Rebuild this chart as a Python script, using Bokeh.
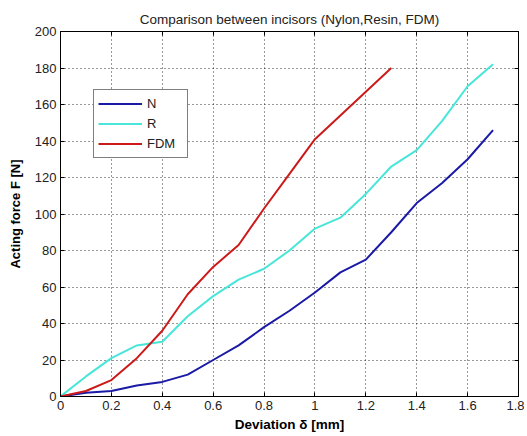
from bokeh.plotting import figure
from bokeh.models import LinearAxis, Range1d, FixedTicker, Legend, LegendItem
from bokeh.embed import file_html
from bokeh.resources import INLINE

x_n = [0, 0.1, 0.2, 0.3, 0.4, 0.5, 0.6, 0.7, 0.8, 0.9, 1.0, 1.1, 1.2, 1.3, 1.4, 1.5, 1.6, 1.7]
y_n = [0, 2, 3, 6, 8, 12, 20, 28, 38, 47, 57, 68, 75, 90, 106, 117, 130, 146]
x_r = [0, 0.1, 0.2, 0.3, 0.4, 0.5, 0.6, 0.7, 0.8, 0.9, 1.0, 1.1, 1.2, 1.3, 1.4, 1.5, 1.6, 1.7]
y_r = [0, 11, 21, 28, 30, 44, 55, 64, 70, 80, 92, 98, 111, 126, 135, 151, 170, 182]
x_f = [0, 0.1, 0.2, 0.3, 0.4, 0.5, 0.6, 0.7, 0.8, 0.9, 1.0, 1.1, 1.2, 1.3]
y_f = [0, 3, 9, 21, 36, 56, 71, 83, 103, 122, 141, 154, 167, 180]
x_ticks = [0, 0.2, 0.4, 0.6, 0.8, 1.0, 1.2, 1.4, 1.6, 1.8]
x_labels = {0: "0", 0.2: "0.2", 0.4: "0.4", 0.6: "0.6", 0.8: "0.8", 1.0: "1", 1.2: "1.2", 1.4: "1.4", 1.6: "1.6", 1.8: "1.8"}
y_ticks = [0, 20, 40, 60, 80, 100, 120, 140, 160, 180, 200]

FONT = "Liberation Sans"

p = figure(frame_width=458, frame_height=365, output_backend="svg", toolbar_location=None,
           x_range=Range1d(0, 1.8), y_range=Range1d(0, 200),
           min_border_left=60, min_border_right=6, min_border_top=31, min_border_bottom=36,
           title="Comparison between incisors (Nylon,Resin, FDM)")
p.title.align = "center"
p.title.text_font = FONT
p.title.text_font_size = "13.5px"
p.title.text_font_style = "normal"
p.title.text_color = "#222222"
p.title.offset = 0

p.outline_line_color = "black"
p.outline_line_width = 1
p.outline_line_alpha = 1

for ax in (p.xaxis[0], p.yaxis[0]):
    ax.major_tick_in = 4
    ax.major_tick_out = 0
    ax.minor_tick_in = 0
    ax.minor_tick_out = 0
    ax.axis_line_color = "black"
    ax.major_label_text_font = FONT
    ax.major_label_text_font_size = "13px"
    ax.major_label_text_color = "#222222"
    ax.axis_label_text_font = FONT
    ax.axis_label_text_font_style = "bold"
    ax.axis_label_text_color = "black"

p.xaxis[0].axis_label_text_font_size = "13.5px"
p.yaxis[0].axis_label_text_font_size = "13px"
p.xaxis[0].ticker = FixedTicker(ticks=x_ticks)
p.xaxis[0].major_label_overrides = x_labels
p.yaxis[0].ticker = FixedTicker(ticks=y_ticks)
p.xaxis[0].axis_label = "Deviation δ [mm]"
p.yaxis[0].axis_label = "Acting force F [N]"
p.xaxis[0].axis_label_standoff = 4
p.yaxis[0].axis_label_standoff = 9
p.xaxis[0].major_label_standoff = 4
p.yaxis[0].major_label_standoff = 4

top = LinearAxis(ticker=FixedTicker(ticks=x_ticks),
                 major_label_overrides={t: "" for t in x_ticks},
                 major_tick_in=4, major_tick_out=0, minor_tick_in=0, minor_tick_out=0,
                 axis_line_color="black", major_label_standoff=0)
right = LinearAxis(ticker=FixedTicker(ticks=y_ticks),
                   major_label_overrides={t: "" for t in y_ticks},
                   major_tick_in=4, major_tick_out=0, minor_tick_in=0, minor_tick_out=0,
                   axis_line_color="black", major_label_standoff=0)
p.add_layout(top, "above")
p.add_layout(right, "right")

for g in (p.xgrid[0], p.ygrid[0]):
    g.grid_line_color = "black"
    g.grid_line_dash = "1 3"
    g.grid_line_alpha = 0.8
p.xgrid[0].ticker = FixedTicker(ticks=x_ticks)
p.ygrid[0].ticker = FixedTicker(ticks=y_ticks)

ln = p.line(x_n, y_n, line_color="#1a1aa6", line_width=2)
lr = p.line(x_r, y_r, line_color="#48e6d8", line_width=2)
lf = p.line(x_f, y_f, line_color="#cc1a1a", line_width=2)

legend = Legend(items=[LegendItem(label="N", renderers=[ln]),
                       LegendItem(label="R", renderers=[lr]),
                       LegendItem(label="FDM", renderers=[lf])],
                location=(33, 238))
legend.border_line_color = "black"
legend.border_line_width = 1
legend.label_text_font = FONT
legend.label_text_font_size = "13px"
legend.label_text_color = "#222222"
legend.glyph_width = 44
legend.glyph_height = 19
legend.label_height = 19
legend.label_width = 36
legend.spacing = 1
legend.padding = 4
legend.margin = 0
legend.label_standoff = 5
legend.background_fill_alpha = 1
p.add_layout(legend, "center")

open("out.html", "w").write(file_html(p, INLINE))
